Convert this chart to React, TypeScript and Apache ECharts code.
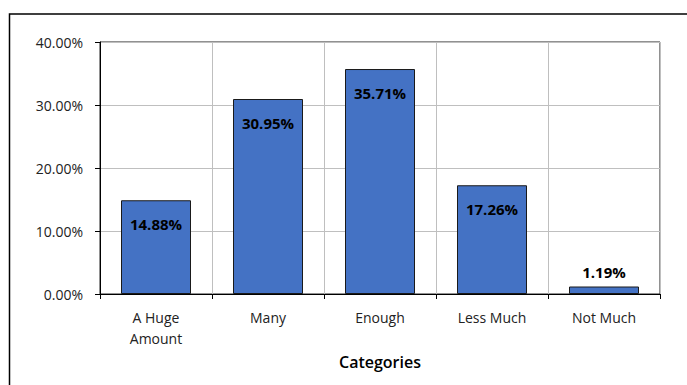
import React, { useEffect, useRef } from "react";
import * as echarts from "echarts";

const categories = ["A Huge\nAmount", "Many", "Enough", "Less Much", "Not Much"];
const shares = [14.88, 30.95, 35.71, 17.26, 1.19];
const yTicks = { min: 0, max: 40, interval: 10 };

const FONT = "'Open Sans', 'Noto Sans', sans-serif";

export default function App() {
  const ref = useRef<HTMLDivElement>(null);

  useEffect(() => {
    if (!ref.current) return;
    const chart = echarts.init(ref.current, null, { renderer: "svg" });

    // Values too short to hold their label get it above the bar instead.
    const data = shares.map((v) => {
      const small = v < 5;
      return {
        value: v,
        label: small
          ? { position: "top", distance: 7 }
          : { position: "insideTop", distance: 16 },
      };
    });

    chart.setOption({
      animation: false,
      backgroundColor: "#fff",
      textStyle: { fontFamily: FONT },
      graphic: [
        {
          type: "rect",
          shape: { x: 9.5, y: 14, width: 700, height: 400 },
          style: { fill: "none", stroke: "#000", lineWidth: 1.5 },
          silent: true,
        },
      ],
      grid: {
        left: 100,
        top: 42,
        right: 27,
        bottom: 91,
        show: true,
        borderColor: "#222",
        borderWidth: 1,
        backgroundColor: "transparent",
      },
      xAxis: {
        type: "category",
        data: categories,
        axisLine: { show: true, lineStyle: { color: "#000", width: 1 } },
        axisTick: { show: true, length: 5, lineStyle: { color: "#000" } },
        splitLine: { show: true, lineStyle: { color: "#bfbfbf", width: 1 } },
        axisLabel: {
          color: "#222",
          fontSize: 14,
          fontFamily: FONT,
          lineHeight: 21,
          margin: 13,
          interval: 0,
        },
        name: "Categories",
        nameLocation: "middle",
        nameGap: 60,
        nameTextStyle: {
          color: "#000",
          fontSize: 16,
          fontWeight: 600,
          fontFamily: FONT,
        },
      },
      yAxis: {
        type: "value",
        min: yTicks.min,
        max: yTicks.max,
        interval: yTicks.interval,
        axisLine: { show: true, lineStyle: { color: "#000", width: 1 } },
        axisTick: { show: true, length: 5, lineStyle: { color: "#000" } },
        splitLine: { show: true, lineStyle: { color: "#bfbfbf", width: 1 } },
        axisLabel: {
          color: "#222",
          fontSize: 14,
          fontFamily: FONT,
          margin: 17,
          formatter: (v: number) => v.toFixed(2) + "%",
        },
      },
      series: [
        {
          type: "bar",
          data,
          barCategoryGap: "37.5%",
          itemStyle: { color: "#4472C4", borderColor: "#1a1a1a", borderWidth: 1 },
          label: {
            show: true,
            color: "#000",
            fontSize: 15,
            fontWeight: "bold",
            fontFamily: FONT,
            formatter: (p: any) => p.value.toFixed(2) + "%",
          },
        },
      ],
    });

    return () => chart.dispose();
  }, []);

  return (
    <div
      ref={ref}
      style={{ position: "absolute", left: 0, top: 0, width: 687, height: 385 }}
    />
  );
}
